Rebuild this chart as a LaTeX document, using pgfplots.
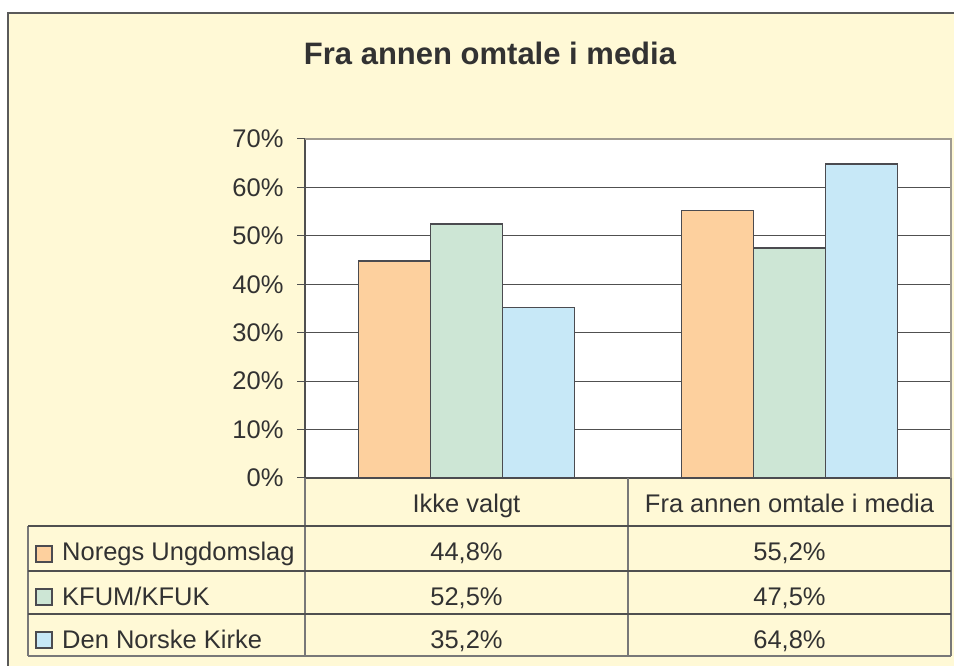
\documentclass[border=0pt]{standalone}
\usepackage{pgfplots}
\pgfplotsset{compat=1.18}
\usepackage{fontspec}
\setmainfont{Liberation Sans}
\definecolor{cream}{RGB}{255,249,214}
\definecolor{cOrange}{RGB}{253,208,158}
\definecolor{cGreen}{RGB}{205,230,213}
\definecolor{cBlue}{RGB}{199,232,247}
\definecolor{txt}{RGB}{50,50,50}
\definecolor{bardraw}{RGB}{75,75,80}
\definecolor{framegray}{RGB}{90,90,90}
\definecolor{gridc}{RGB}{80,80,80}
\definecolor{lightb}{RGB}{160,155,145}
\definecolor{tabv}{RGB}{120,120,120}
\begin{document}
\begin{tikzpicture}
\useasboundingbox (0,0) rectangle (954pt,666pt);
\fill[white] (0,0) rectangle (954pt,666pt);
\fill[cream] (8pt,0pt) rectangle (954pt,653pt);
\draw[framegray, line width=1.5pt] (8pt,0pt) -- (8pt,653pt) -- (954pt,653pt);
\node[font=\bfseries\fontsize{31}{36}\selectfont, text=txt, anchor=base] at (490pt,601pt) {Fra annen omtale i media};
\begin{axis}[
  at={(305pt,188pt)}, anchor=south west,
  scale only axis, width=646pt, height=339pt,
  ybar=0pt, bar width=72pt,
  xmin=-0.5, xmax=1.5, ymin=0, ymax=70,
  xtick=\empty,
  ytick={0,10,20,30,40,50,60,70},
  yticklabels={0\%,10\%,20\%,30\%,40\%,50\%,60\%,70\%},
  yticklabel style={font=\fontsize{25.5}{30}\selectfont, text=txt, xshift=-10pt},
  axis background/.style={fill=white},
  axis lines*=left,
  axis line style={draw=gridc, line width=1.5pt, -},
  ymajorgrids,
  major grid style={draw=gridc, line width=1pt},
  tick align=outside,
  major tick length=8pt,
  tick style={draw=gridc, line width=1pt},
  clip=false,
]
\addplot[fill=cOrange, draw=bardraw, line width=1.6pt] coordinates {(0,44.8) (1,55.2)};
\addplot[fill=cGreen, draw=bardraw, line width=1.6pt] coordinates {(0,52.5) (1,47.5)};
\addplot[fill=cBlue, draw=bardraw, line width=1.6pt] coordinates {(0,35.2) (1,64.8)};
\end{axis}
% plot area border top/right
\draw[lightb, line width=1.5pt] (305pt,527pt) -- (951pt,527pt) -- (951pt,188pt);
% table lines
\draw[tabv, line width=1.2pt] (305pt,188pt) -- (305pt,10pt);
\draw[tabv, line width=1.2pt] (628pt,188pt) -- (628pt,10pt);
\draw[tabv, line width=1.2pt] (951pt,188pt) -- (951pt,10pt);
\draw[tabv, line width=1.2pt] (28pt,140pt) -- (28pt,10pt);
\draw[gridc, line width=1.2pt] (28pt,140pt) -- (951pt,140pt);
\draw[gridc, line width=1.2pt] (28pt,95pt) -- (951pt,95pt);
\draw[gridc, line width=1.2pt] (28pt,52pt) -- (951pt,52pt);
\draw[tabv, line width=1.2pt] (28pt,10pt) -- (951pt,10pt);
% header
\begin{scope}[every node/.style={font=\fontsize{25.5}{30}\selectfont, text=txt, inner sep=0pt}]
\node[anchor=base] at (466.5pt,153pt) {Ikke valgt};
\node[anchor=base] at (789.5pt,153pt) {Fra annen omtale i media};
% legend
\draw[bardraw, line width=1.2pt, fill=cOrange] (36pt,104pt) rectangle (52pt,120pt);
\draw[bardraw, line width=1.2pt, fill=cGreen] (36pt,61pt) rectangle (52pt,77pt);
\draw[bardraw, line width=1.2pt, fill=cBlue] (36pt,18pt) rectangle (52pt,34pt);
\node[anchor=base west] at (62pt,105pt) {Noregs Ungdomslag};
\node[anchor=base west] at (62pt,60pt) {KFUM/KFUK};
\node[anchor=base west] at (62pt,17pt) {Den Norske Kirke};
% values
\node[anchor=base] at (466.5pt,105pt) {44,8\%};
\node[anchor=base] at (789.5pt,105pt) {55,2\%};
\node[anchor=base] at (466.5pt,60pt) {52,5\%};
\node[anchor=base] at (789.5pt,60pt) {47,5\%};
\node[anchor=base] at (466.5pt,17pt) {35,2\%};
\node[anchor=base] at (789.5pt,17pt) {64,8\%};
\end{scope}
\end{tikzpicture}
\end{document}
